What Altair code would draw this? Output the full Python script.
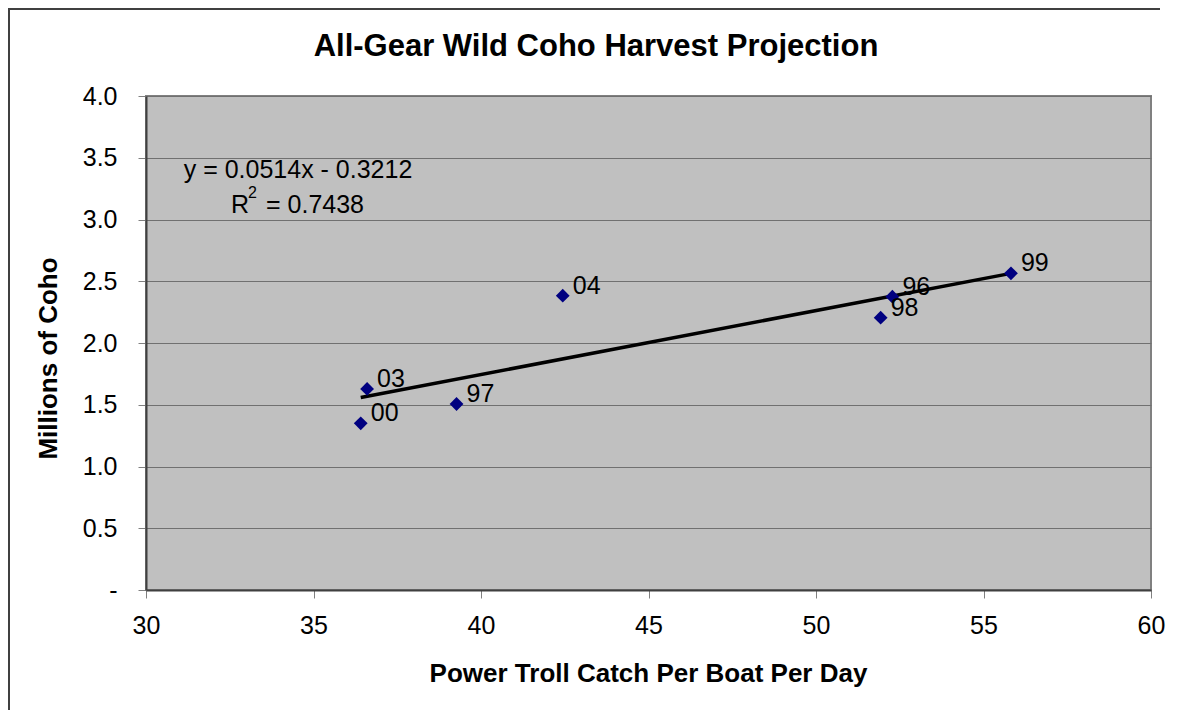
import altair as alt
import pandas as pd

# Data
years = ["96", "97", "98", "99", "00", "03", "04"]
catch_per_boat = [52.28, 39.27, 51.93, 55.82, 36.41, 36.60, 42.44]
millions_coho = [2.375, 1.506, 2.205, 2.564, 1.350, 1.628, 2.383]

x_ticks = [30, 35, 40, 45, 50, 55, 60]
y_ticks = [0, 0.5, 1.0, 1.5, 2.0, 2.5, 3.0, 3.5, 4.0]

title_text = "All-Gear Wild Coho Harvest Projection"
x_title = "Power Troll Catch Per Boat Per Day"
y_title = "Millions of Coho"
equation_text = "y = 0.0514x - 0.3212"
r2_value_text = "= 0.7438"

df = pd.DataFrame({"year": years, "catch": catch_per_boat, "coho": millions_coho})
one = pd.DataFrame({"a": [0]})

FONT = "Liberation Sans"

x_scale = alt.Scale(domain=[30, 60], nice=False, zero=False)
y_scale = alt.Scale(domain=[0, 4], nice=False)

x_axis = alt.Axis(
    values=x_ticks, grid=False, title=x_title, labelFlush=False,
    titleX=502, titleY=83, titleBaseline="middle", titleAlign="center",
    labelPadding=15, format="d",
)
y_axis = alt.Axis(
    values=y_ticks, grid=True, title=y_title, labelFlush=False,
    labelExpr="datum.value == 0 ? '-\u00a0\u00a0' : format(datum.value, '.1f')",
    titleX=-98, titleY=262, titleBaseline="middle", titleAlign="center", titleAngle=270,
    labelPadding=21,
)

base = alt.Chart(df)

trend = base.mark_line(color="black", strokeWidth=3.5).encode(
    x=alt.X("catch:Q", scale=x_scale, axis=x_axis),
    y=alt.Y("coho:Q", scale=y_scale, axis=y_axis),
).transform_regression("catch", "coho")

points = base.mark_point(shape="diamond", filled=True, color="#000080", size=190, opacity=1).encode(
    x=alt.X("catch:Q", scale=x_scale, axis=x_axis),
    y=alt.Y("coho:Q", scale=y_scale, axis=y_axis),
)

labels = base.mark_text(align="left", baseline="middle", dx=10, dy=-10,
                        font=FONT, fontSize=25, color="black").encode(
    x=alt.X("catch:Q", scale=x_scale),
    y=alt.Y("coho:Q", scale=y_scale),
    text="year:N",
)

annot = alt.Chart(one)
title_mark = annot.mark_text(font=FONT, fontSize=31, fontWeight="bold", align="center",
                             baseline="middle", color="black").encode(
    x=alt.value(450), y=alt.value(-49), text=alt.value(title_text))
eq_mark = annot.mark_text(font=FONT, fontSize=25, align="center", baseline="middle",
                          color="black").encode(
    x=alt.value(152), y=alt.value(74), text=alt.value(equation_text))
r_mark = annot.mark_text(font=FONT, fontSize=25, align="left", baseline="middle",
                         color="black").encode(
    x=alt.value(85), y=alt.value(109), text=alt.value("R"))
sup_mark = annot.mark_text(font=FONT, fontSize=16, align="left", baseline="middle",
                           color="black").encode(
    x=alt.value(102), y=alt.value(97), text=alt.value("2"))
r2_mark = annot.mark_text(font=FONT, fontSize=25, align="left", baseline="middle",
                          color="black").encode(
    x=alt.value(120), y=alt.value(109), text=alt.value(r2_value_text))

# Outer chart border: only its left and top edges are visible in the reference
frame_v = annot.mark_rule(color="#404040", strokeWidth=2).encode(
    x=alt.value(-137), y=alt.value(-88), y2=alt.value(700))
frame_h = annot.mark_rule(color="#404040", strokeWidth=2).encode(
    x=alt.value(-138), x2=alt.value(1014), y=alt.value(-87))

chart = alt.layer(
    trend, points, labels, title_mark, eq_mark, r_mark, sup_mark, r2_mark, frame_v, frame_h
).properties(
    width=1005, height=494,
    autosize=alt.AutoSizeParams(type="none"),
    padding={"left": 138, "top": 88, "right": 15, "bottom": 120},
    background="white",
).configure_view(
    fill="#C0C0C0", stroke="#808080", strokeWidth=2,
).configure_axis(
    labelFont=FONT, labelFontSize=25, labelColor="black",
    titleFont=FONT, titleFontSize=26, titleFontWeight="bold", titleColor="black",
    tickColor="#808080", tickSize=8, tickWidth=1,
    domainColor="#404040", domainWidth=2,
    gridColor="#707070", gridWidth=1, gridOpacity=1,
)

chart.save("out.html", embed_options={"renderer": "svg", "actions": False})
